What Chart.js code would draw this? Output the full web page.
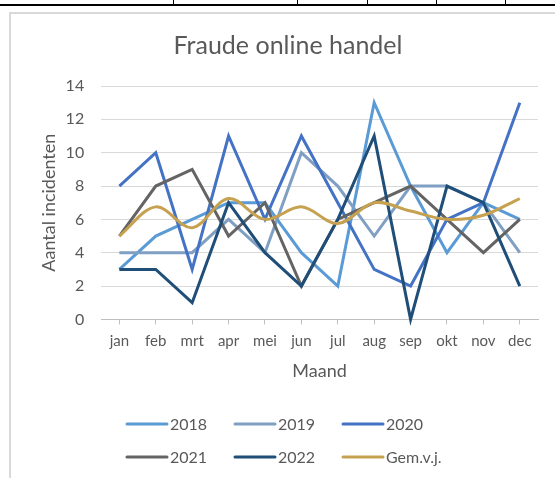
<!DOCTYPE html>
<html>
<head>
<meta charset="utf-8">
<script src="https://cdn.jsdelivr.net/npm/chart.js@4/dist/chart.umd.min.js"></script>
<style>
  html, body { margin: 0; padding: 0; background: #fff; }
  body { width: 555px; height: 478px; position: relative; overflow: hidden; }
  .tbl-line { position: absolute; left: 0; top: 4px; width: 555px; height: 2px; background: #000; }
  .tbl-col { position: absolute; top: 0; width: 1px; height: 5px; background: #000; }
  .frame { position: absolute; left: 9px; top: 12px; width: 600px; height: 500px;
           border-left: 2px solid #d9d9d9; border-top: 2px solid #d9d9d9; }
  #fraude-chart { position: absolute; left: 0; top: 0; }
</style>
</head>
<body>
<div class="tbl-line"></div>
<div class="tbl-col" style="left:173px"></div>
<div class="tbl-col" style="left:297px"></div>
<div class="tbl-col" style="left:367px"></div>
<div class="tbl-col" style="left:436px"></div>
<div class="tbl-col" style="left:505px"></div>
<div class="frame"></div>
<canvas id="fraude-chart" width="555" height="478"></canvas>
<script>
// Fraude online handel - incidenten per maand
const months = ['jan', 'feb', 'mrt', 'apr', 'mei', 'jun', 'jul', 'aug', 'sep', 'okt', 'nov', 'dec'];
const y2018 = [3, 5, 6, 7, 7, 4, 2, 13, 8, 4, 7, 6];
const y2019 = [4, 4, 4, 6, 4, 10, 8, 5, 8, 8, 7, 4];
const y2020 = [8, 10, 3, 11, 6, 11, 7, 3, 2, 6, 7, 13];
const y2021 = [5, 8, 9, 5, 7, 2, 6, 7, 8, 6, 4, 6];
const y2022 = [3, 3, 1, 7, 4, 2, 6, 11, 0, 8, 7, 2];
const gemVj = [5, 6.75, 5.5, 7.25, 6, 6.75, 5.75, 7, 6.5, 6, 6.25, 7.25];

const FONT = 'Lato, "Open Sans", sans-serif';
const GREY = '#595959';

function line(label, data, color, order, tension) {
  return {
    label: label,
    data: data,
    borderColor: color,
    backgroundColor: color,
    borderWidth: 3,
    pointRadius: 0,
    tension: tension || 0,
    order: order,
    clip: false
  };
}

// legend drawn Excel-style: 3 columns, 2 rows
const gridLegend = {
  id: 'gridLegend',
  afterDraw(chart) {
    const ctx = chart.ctx;
    const colX = [127, 235, 343];
    const rowY = [424, 457];
    ctx.save();
    ctx.font = '16px ' + FONT;
    ctx.textBaseline = 'middle';
    ctx.fillStyle = GREY;
    chart.data.datasets.forEach((ds, i) => {
      const x = colX[i % 3];
      const y = rowY[Math.floor(i / 3)];
      ctx.strokeStyle = ds.borderColor;
      ctx.lineWidth = 3;
      ctx.lineCap = 'round';
      ctx.beginPath();
      ctx.moveTo(x, y);
      ctx.lineTo(x + 40, y);
      ctx.stroke();
      ctx.fillText(ds.label, x + 43, y + 1);
    });
    ctx.restore();
  }
};

const ctx = document.getElementById('fraude-chart');

new Chart(ctx, {
  type: 'line',
  data: {
    labels: months,
    datasets: [
      line('2018', y2018, '#5B9BD5', 5),
      line('2019', y2019, '#7F9FC3', 4),
      line('2020', y2020, '#4472C4', 3),
      line('2021', y2021, '#646464', 2),
      line('2022', y2022, '#1F4E79', 1),
      line('Gem.v.j.', gemVj, '#C6A150', 0, 0.35)
    ]
  },
  options: {
    responsive: false,
    animation: false,
    layout: {
      padding: { left: 38, right: 17, top: 0, bottom: 96 }
    },
    plugins: {
      legend: { display: false },
      tooltip: { enabled: false },
      title: {
        display: true,
        text: 'Fraude online handel',
        color: GREY,
        font: { family: FONT, size: 25, weight: 'normal' },
        padding: { top: 31, bottom: 25 }
      }
    },
    scales: {
      x: {
        offset: true,
        grid: {
          display: true,
          drawOnChartArea: false,
          offset: false,
          tickLength: 5,
          color: '#bfbfbf'
        },
        border: { color: '#bfbfbf', width: 1 },
        ticks: {
          color: GREY,
          padding: 8,
          font: { family: FONT, size: 15 }
        },
        title: {
          display: true,
          text: 'Maand',
          color: GREY,
          font: { family: FONT, size: 18 },
          padding: { top: 2, bottom: 0 }
        }
      },
      y: {
        min: 0,
        max: 14,
        grid: {
          color: '#d9d9d9',
          drawTicks: false
        },
        border: { display: false },
        ticks: {
          stepSize: 2,
          color: GREY,
          padding: 17,
          font: { family: FONT, size: 16 }
        },
        title: {
          display: true,
          text: 'Aantal incidenten',
          color: GREY,
          font: { family: FONT, size: 18 },
          padding: { top: 0, bottom: 6 }
        },
        afterFit: (scale) => {
          // pull tick labels closer to the axis title
          scale.width -= 17;
        }
      }
    }
  },
  plugins: [gridLegend]
});
</script>
</body>
</html>
